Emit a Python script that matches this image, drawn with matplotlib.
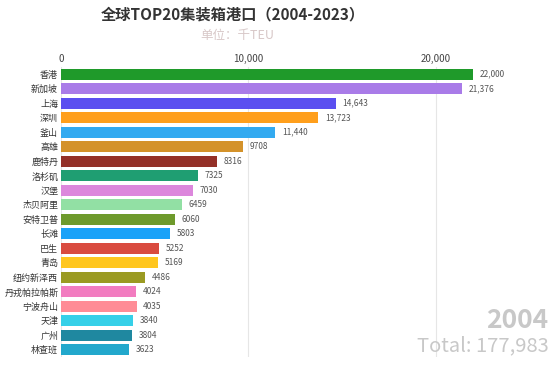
import matplotlib
matplotlib.use("Agg")
import matplotlib.pyplot as plt

plt.rcParams['font.family'] = ['Noto Sans CJK SC', 'DejaVu Sans']

# 2004 data, in thousand TEU
ports = ["香港", "新加坡", "上海", "深圳", "釜山", "高雄", "鹿特丹", "洛杉矶", "汉堡", "杰贝阿里",
         "安特卫普", "长滩", "巴生", "青岛", "纽约新泽西", "丹戎帕拉帕斯", "宁波舟山", "天津", "广州", "林查班"]
teu = [22000, 21376, 14643, 13723, 11440, 9708, 8316, 7325, 7030, 6459,
       6060, 5803, 5252, 5169, 4486, 4024, 4035, 3840, 3804, 3623]
colors = ["#1f9a2a", "#a97be8", "#5b4ff0", "#ff9f1c", "#33aaf0", "#d4922a", "#943028", "#1f9e72",
          "#dc87dc", "#92e0a4", "#6e9a2c", "#1aa2f8", "#d94b3f", "#ffc61e", "#9a9a22", "#f27cc0",
          "#ff8c96", "#36d0e8", "#1f88a0", "#22a8cc"]
year = "2004"
total = 177983

fig = plt.figure(figsize=(5.54, 3.7), dpi=100)
ax = fig.add_axes([0.110, 0.035, 0.88, 0.784])

y = list(range(len(ports)))
ax.barh(y, teu, height=0.78, color=colors)
for yi, v in zip(y, teu):
    txt = f"{v:,}" if v >= 10000 else str(v)
    ax.text(v + 350, yi, txt, va='center', ha='left', fontsize=6, color='#555555')

ax.set_ylim(len(ports) - 0.5, -0.5)
ax.set_xlim(0, 26000)
ax.set_yticks(y)
ax.set_yticklabels(ports, fontsize=6.5, color='#333333')
ax.xaxis.tick_top()
ax.set_xticks([0, 10000, 20000])
ax.set_xticklabels(["0", "10,000", "20,000"], fontsize=7, color='#444444')
ax.tick_params(length=0, pad=2)
ax.grid(axis='x', color='#e6e6e6', linewidth=0.8)
ax.set_axisbelow(True)
for s in ax.spines.values():
    s.set_visible(False)

fig.text(0.421, 0.962, "全球TOP20集装箱港口（2004-2023）", ha='center', va='center',
         fontsize=11, fontweight='bold', color='#333333')
fig.text(0.428, 0.905, "单位：千TEU", ha='center', va='center', fontsize=9, color='#d8c8c8')
fig.text(0.99, 0.135, year, ha='right', va='center', fontsize=19, fontweight='bold', color='#c8c8c8')
fig.text(0.99, 0.065, f"Total: {total:,}", ha='right', va='center', fontsize=14.5, color='#c8c8c8')

fig.savefig("out.png", dpi=100)
